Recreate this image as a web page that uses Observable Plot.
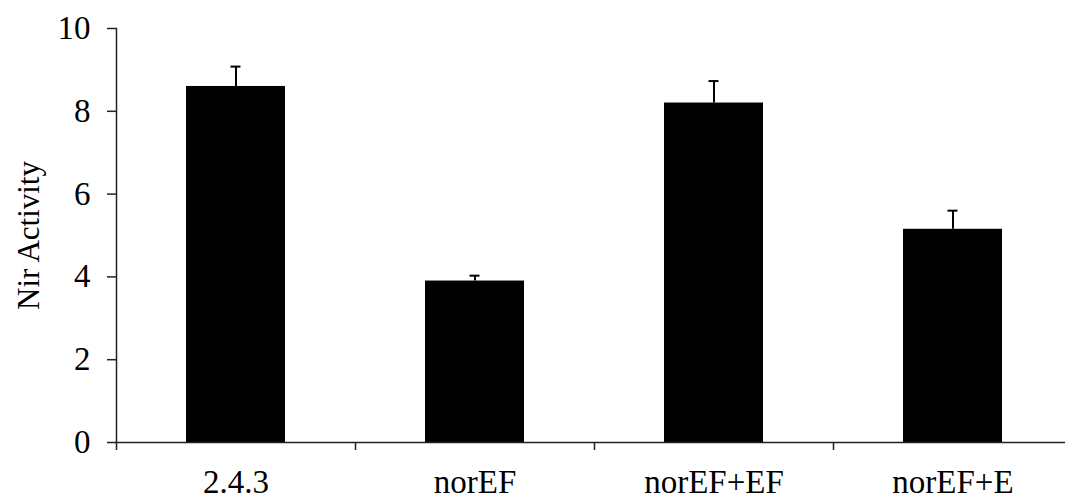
<!DOCTYPE html>
<html>
<head>
<meta charset="utf-8">
<script src="https://cdn.jsdelivr.net/npm/d3@7"></script>
<script src="https://cdn.jsdelivr.net/npm/@observablehq/plot@0.6"></script>
<style>
  html, body { margin: 0; padding: 0; background: #fff; }
  #chart svg { display: block; }
</style>
</head>
<body>
<div id="chart"></div>
<script>
// Nir activity per strain, with the upper standard error
const strains = ["2.4.3", "norEF", "norEF+EF", "norEF+E"];
const activity = [8.6, 3.9, 8.2, 5.15];
const errors = [0.48, 0.13, 0.53, 0.45];
const yTicks = [0, 2, 4, 6, 8, 10];

const rows = strains.map((s, i) => ({strain: s, value: activity[i], err: errors[i]}));

const W = 1065, H = 500;
const marginLeft = 116, marginRight = -7;
const halfStep = (W - marginLeft - marginRight) / strains.length / 2;

const chart = Plot.plot({
  width: W,
  height: H,
  marginTop: 28,
  marginBottom: 58,
  marginLeft,
  marginRight,
  style: {fontFamily: "'Liberation Serif', 'Times New Roman', serif", fontSize: "33px", color: "#000", background: "#fff"},
  x: {domain: strains, paddingInner: 0.585, paddingOuter: 0.2925, label: null},
  y: {domain: [0, 10], label: null},
  marks: [
    Plot.barY(rows, {x: "strain", y: "value", fill: "#000"}),
    Plot.ruleX(rows, {x: "strain", y1: "value", y2: d => d.value + d.err, stroke: "#000", strokeWidth: 2}),
    Plot.tickY(rows, {x: "strain", y: d => d.value + d.err, stroke: "#000", strokeWidth: 2, insetLeft: 44.5, insetRight: 44.5}),
    Plot.frame({anchor: "left", stroke: "#222", strokeWidth: 1.5}),
    Plot.ruleY([0], {stroke: "#222", strokeWidth: 1.5}),
    Plot.axisY({ticks: yTicks, tickSize: 9, tickPadding: 17, strokeWidth: 1.5, stroke: "#222", fontSize: 33,
      label: "Nir Activity", labelAnchor: "center", labelArrow: "none", labelOffset: 100}),
    // category boundary ticks below the baseline
    Plot.axisX({tickSize: 8, tickFormat: () => "", dx: -halfStep, strokeWidth: 1.5, stroke: "#222", label: null}),
    Plot.axisX({tickSize: 0, tickPadding: 27, fontSize: 33, label: null})
  ]
});

// the axis title is a little smaller than the tick labels
d3.select(chart).selectAll("g[aria-label='y-axis label'] text").attr("font-size", 31);

document.getElementById("chart").appendChild(chart);
</script>
</body>
</html>
